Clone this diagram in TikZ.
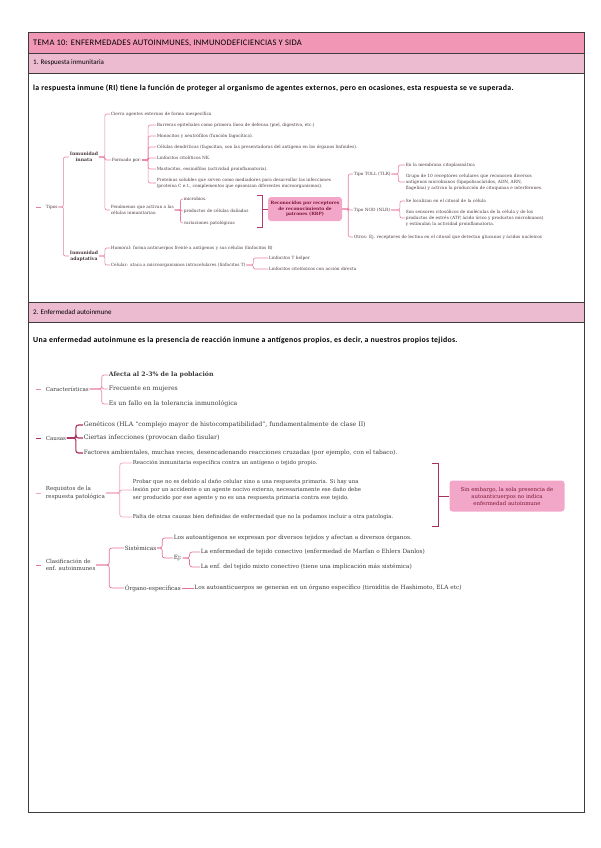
\documentclass[tikz,border=0pt]{standalone}
\usepackage{fontspec}
\setmainfont{Carlito}
\newfontfamily\mmfont{DejaVu Serif}
\definecolor{titlepink}{HTML}{F197B5}
\definecolor{secpink}{HTML}{ECBBD0}
\definecolor{framec}{HTML}{3C3C3C}
\definecolor{lnA}{HTML}{E87FA3}
\definecolor{brkA}{HTML}{B83A6A}
\definecolor{boxA}{HTML}{F3A7C8}
\definecolor{boxtxt}{HTML}{7E1838}
\definecolor{txtA}{HTML}{4A3A3E}
\definecolor{txtB}{HTML}{3A3A3A}
\definecolor{lnCar}{HTML}{E98BAB}
\definecolor{lnCau}{HTML}{A8305E}
\definecolor{lnReq}{HTML}{F0A5BF}
\definecolor{lnCla}{HTML}{E27097}
\tikzset{
  hdrT/.style={anchor=west, inner sep=0pt, font=\fontsize{8.5}{10}\selectfont\addfontfeature{LetterSpace=3}, text=black},
  hdr/.style={anchor=west, inner sep=0pt, font=\fontsize{7}{9}\selectfont, text=black},
  lead/.style={anchor=west, inner sep=0pt, font=\bfseries\fontsize{7.8}{9}\selectfont\addfontfeature{LetterSpace=4}, text=black},
  sa/.style={anchor=west, inner sep=0.6pt, align=left, text=txtA, font=\mmfont\fontsize{4.3}{6}\selectfont},
  sab/.style={anchor=center, inner sep=0.6pt, align=center, text=txtA, font=\mmfont\bfseries\fontsize{4.6}{6}\selectfont},
  sb/.style={anchor=west, inner sep=0.6pt, align=left, text=txtB, font=\mmfont\fontsize{6.2}{8}\selectfont},
  sc/.style={anchor=west, inner sep=0.6pt, align=left, text=txtB, font=\mmfont\fontsize{5.8}{8}\selectfont},
  sr/.style={anchor=west, inner sep=0.6pt, align=left, text=txtB, font=\mmfont\fontsize{5.4}{7.6}\selectfont},
  lbl/.style={anchor=west, inner sep=0.6pt, align=left, text=txtB, font=\mmfont\fontsize{5.6}{7.4}\selectfont},
  brA/.style={draw=lnA, line width=0.6pt, rounded corners=2pt},
  brCar/.style={draw=lnCar, line width=0.7pt, rounded corners=2.5pt},
  brCau/.style={draw=lnCau, line width=1.1pt, rounded corners=2.5pt},
  brReq/.style={draw=lnReq, line width=0.7pt, rounded corners=2.5pt},
  brCla/.style={draw=lnCla, line width=0.7pt, rounded corners=2.5pt},
  pinkbox/.style={fill=boxA, rounded corners=3pt, inner sep=2pt, align=center, text=boxtxt},
}
\begin{document}
\begin{tikzpicture}[x=1pt,y=-1pt]
\useasboundingbox (0,0) rectangle (600,848);
% ---------- frame ----------
\fill[titlepink] (28,33) rectangle (584,53);
\fill[secpink] (28,53) rectangle (584,73);
\fill[secpink] (28,302) rectangle (584,322);
\draw[framec, line width=1pt] (28,33) rectangle (584,812);
\draw[framec, line width=0.8pt] (28,53) -- (584,53);
\draw[framec, line width=0.8pt] (28,73) -- (584,73);
\draw[framec, line width=0.8pt] (28,302) -- (584,302);
\draw[framec, line width=0.8pt] (28,322) -- (584,322);
\node[hdrT] (title) at (33,43) {TEMA 10: ENFERMEDADES AUTOINMUNES, INMUNODEFICIENCIAS Y SIDA};
\node[hdr] (sec1) at (33,63) {1. Respuesta inmunitaria};
\node[lead] (intro1) at (33,88) {la respuesta inmune (RI) tiene la función de proteger al organismo de agentes externos, pero en ocasiones, esta respuesta se ve superada.};
\node[hdr] (sec2) at (33,312) {2. Enfermedad autoinmune};
\node[lead] (intro2) at (33,340) {Una enfermedad autoinmune es la presencia de reacción inmune a antígenos propios, es decir, a nuestros propios tejidos.};

% ---------- section 1 mind map ----------
\node[sa] (tipos) at (45,207) {Tipos};
\coordinate (tdash) at (36,207);
\draw[lnA, line width=0.8pt] (tdash) -- ++(5,0);
\node[sab] (innata) at (84,157) {Inmunidad\\innata};
\node[sab] (adapt) at (84,256) {Inmunidad\\adaptativa};
\draw[brA] (tipos.east) -- ++(5,0) |- (innata.west);
\draw[brA] (tipos.east) -- ++(5,0) |- (adapt.west);

\node[sa] (cierra) at (110,114) {Cierra agentes externos de forma inespecífica};
\node[sa] (formado) at (111,160) {Formado por:};
\node[sa] (fenom) at (110,210) {Fenómenos que activan a las\\células inmunitarias:};
\draw[brA] (innata.east) -- ++(6,0) |- (cierra.west);
\draw[brA] (innata.east) -- ++(6,0) |- (formado.west);
\draw[brA] (innata.east) -- ++(6,0) |- (fenom.west);

\node[sa] (f1) at (156,125) {Barreras epiteliales como primera línea de defensa (piel, digestivo, etc.)};
\node[sa] (f2) at (156,136) {Monocitos y neutrófilos (función fagocítica).};
\node[sa] (f3) at (156,147) {Células dendríticas (fagocitan, son las presentadoras del antígeno en los órganos linfoides).};
\node[sa] (f4) at (156,158) {Linfocitos citolíticos NK.};
\node[sa] (f5) at (156,169) {Mastocitos, eosinófilos (actividad proinflamatoria).};
\node[sa] (f6) at (156,183) {Proteínas solubles que sirven como mediadores para desarrollar las infecciones\\(proteína C e.t., complementos que opsonizan diferentes microorganismos).};
\foreach \k in {f1,f2,f3,f4,f5,f6}{\draw[brA] (formado.east) -- ++(6,0) |- (\k.west);}

\node[sa] (m1) at (183,199) {microbios.};
\node[sa] (m2) at (183,211) {productos de células dañadas};
\node[sa] (m3) at (183,223) {variaciones patológicas};
\foreach \k in {m1,m2,m3}{\draw[brA] (fenom.east) -- ++(6,0) |- (\k.west);}

\node[pinkbox, font=\mmfont\bfseries\fontsize{4.4}{5.6}\selectfont, minimum width=74pt, minimum height=24pt] (rrp) at (305,209) {Reconocidos por receptores\\de reconocimiento de\\patrones (RRP)};
\draw[brkA, line width=0.8pt] (257,195) -- (262,195) -- (262,227) -- (257,227);
\draw[brkA, line width=0.8pt] (rrp.west) -- ++(-6,0);

\node[sa] (tlr) at (353,174) {Tipo TOLL (TLR)};
\node[sa] (nlr) at (353,210) {Tipo NOD (NLR)};
\node[sa] (otros) at (353,237) {Otros: Ej. receptores de lectina en el citosol que detectan glucanos y ácidos nucleicos};
\foreach \k in {tlr,nlr,otros}{\draw[brA] (rrp.east) -- ++(6,0) |- (\k.west);}

\node[sa] (t1) at (405,165) {En la membrana citoplasmática};
\node[sa] (t2) at (405,182) {Grupo de 10 receptores celulares que reconocen diversos\\antígenos microbianos (lipopolisacáridos, ADN, ARN,\\flagelina) y activan la producción de citoquinas e interferones.};
\foreach \k in {t1,t2}{\draw[brA] (tlr.east) -- ++(7,0) |- (\k.west);}
\node[sa] (n1) at (405,201) {Se localizan en el citosol de la célula};
\node[sa] (n2) at (405,218) {Son sensores citosólicos de moléculas de la célula y de los\\productos de estrés (ATP, ácido úrico y productos microbianos)\\y estimulan la actividad proinflamatoria.};
\foreach \k in {n1,n2}{\draw[brA] (nlr.east) -- ++(9,0) |- (\k.west);}

\node[sa] (a1) at (110,248) {Humoral: forma anticuerpos frente a antígenos y sus células (linfocitos B)};
\node[sa] (a2) at (110,265) {Celular: ataca a microorganismos intracelulares (linfocitos T)};
\foreach \k in {a1,a2}{\draw[brA] (adapt.east) -- ++(6,0) |- (\k.west);}
\node[sa] (lt1) at (268,258) {Linfocitos T helper};
\node[sa] (lt2) at (268,269) {Linfocitos citotóxicos con acción directa};
\foreach \k in {lt1,lt2}{\draw[brA] (a2.east) -- ++(7,0) |- (\k.west);}

% ---------- section 2 mind map ----------
% Caracteristicas
\node[lbl] (car) at (45,389) {Características};
\draw[lnCar, line width=0.8pt] (36,389) -- (41,389);
\node[sb, font=\mmfont\bfseries\fontsize{6.2}{8}\selectfont] (c1) at (108,375) {Afecta al 2-3\% de la población};
\node[sb] (c2) at (108,389) {Frecuente en mujeres};
\node[sb] (c3) at (108,404) {Es un fallo en la tolerancia inmunológica};
\foreach \k in {c1,c2,c3}{\draw[brCar] (car.east) -- ++(12,0) |- (\k.west);}

% Causas
\node[lbl] (cau) at (45,438) {Causas};
\draw[lnCau, line width=1pt] (36,438) -- (41,438);
\node[sb] (k1) at (83,425) {Genéticos (HLA “complejo mayor de histocompatibilidad”, fundamentalmente de clase II)};
\node[sb] (k2) at (83,438) {Ciertas infecciones (provocan daño tisular)};
\node[sb, font=\mmfont\fontsize{5.9}{8}\selectfont] (k3) at (83,453) {Factores ambientales, muchas veces, desencadenando reacciones cruzadas (por ejemplo, con el tabaco).};
\foreach \k in {k1,k2,k3}{\draw[brCau] (cau.east) -- ++(9,0) |- (\k.west);}

% Requisitos
\node[lbl] (req) at (45,493) {Requisitos de la\\respuesta patológica};
\draw[lnReq, line width=0.8pt] (36,493) -- (41,493);
\node[sr] (r1) at (132,463) {Reacción inmunitaria específica contra un antígeno o tejido propio.};
\node[sr] (r2) at (132,490) {Probar que no es debido al daño celular sino a una respuesta primaria. Si hay una\\lesión por un accidente o un agente nocivo externo, necesariamente ese daño debe\\ser producido por ese agente y no es una respuesta primaria contra ese tejido.};
\node[sr] (r3) at (132,517) {Falta de otras causas bien definidas de enfermedad que no la podamos incluir a otra patología.};
\foreach \k in {r1,r2,r3}{\draw[brReq] (req.east) -- ++(14,0) |- (\k.west);}
\node[pinkbox, font=\mmfont\fontsize{5.4}{7}\selectfont, minimum width=115pt, minimum height=31pt] (nota) at (507,496) {Sin embargo, la sola presencia de\\autoanticuerpos no indica\\enfermedad autoinmune};
\draw[lnCau, line width=0.8pt] (432,463) -- (438,463) -- (438,526) -- (432,526);
\draw[lnCau, line width=0.8pt] (nota.west) -- ++(-11,0);

% Clasificacion
\node[lbl] (cla) at (45,565) {Clasificación de\\enf. autoinmunes};
\draw[lnCla, line width=0.8pt] (36,565) -- (41,565);
\node[sc] (sis) at (124,548) {Sistémicas};
\node[sc] (org) at (124,588) {Órgano-específicas};
\foreach \k in {sis,org}{\draw[brCla] (cla.east) -- ++(13,0) |- (\k.west);}
\node[sc] (s1) at (173,538) {Los autoantígenos se expresan por diversos tejidos y afectan a diversos órganos.};
\node[sc] (ej) at (173,558) {Ej:};
\foreach \k in {s1,ej}{\draw[brCla] (sis.east) -- ++(5,0) |- (\k.west);}
\node[sc] (e1) at (200,552) {La enfermedad de tejido conectivo (enfermedad de Marfan o Ehlers Danlos)};
\node[sc] (e2) at (200,567) {La enf. del tejido mixto conectivo (tiene una implicación más sistémica)};
\foreach \k in {e1,e2}{\draw[brCla] (ej.east) -- ++(7,0) |- (\k.west);}
\node[sc, anchor=west] (o1) at ([xshift=12pt]org.east) {Los autoanticuerpos se generan en un órgano específico (tiroiditis de Hashimoto, ELA etc)};
\draw[brCla] (org.east) -- (o1.west);
\end{tikzpicture}
\end{document}
